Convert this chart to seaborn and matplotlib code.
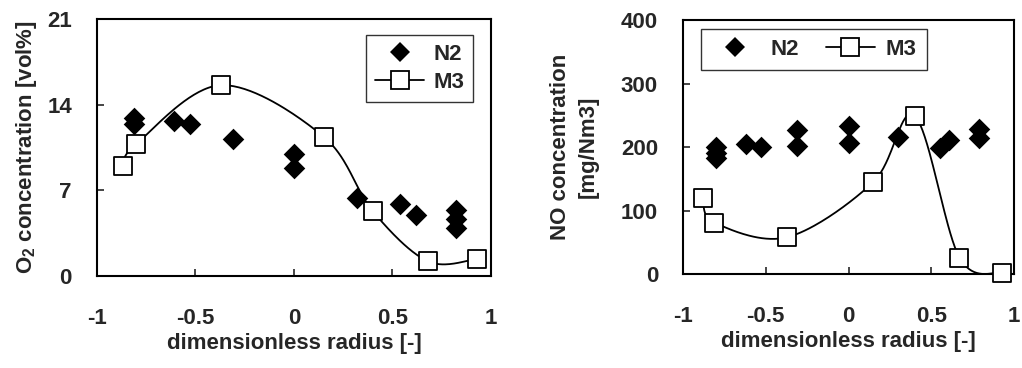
import numpy as np
import matplotlib
matplotlib.use("Agg")
import matplotlib.pyplot as plt
import seaborn as sns
from matplotlib.lines import Line2D

# ---- data ----
# O2 concentration (left)
o2_n2_x = [-0.81, -0.81, -0.61, -0.53, -0.31, 0.0, 0.0, 0.32, 0.54, 0.62, 0.82, 0.82, 0.82]
o2_n2_y = [12.9, 12.4, 12.7, 12.4, 11.2, 10.0, 8.8, 6.4, 5.9, 5.0, 5.4, 4.7, 3.9]
o2_m3_x = [-0.87, -0.80, -0.37, 0.15, 0.40, 0.68, 0.93]
o2_m3_y = [9.0, 10.8, 15.6, 11.4, 5.3, 1.2, 1.4]

# NO concentration (right)
no_n2_x = [-0.80, -0.80, -0.80, -0.62, -0.53, -0.31, -0.31, 0.0, 0.0, 0.30, 0.55, 0.61, 0.79, 0.79]
no_n2_y = [200, 190, 182, 205, 200, 227, 202, 233, 206, 216, 198, 211, 229, 214]
no_m3_x = [-0.88, -0.81, -0.37, 0.15, 0.40, 0.67, 0.93]
no_m3_y = [119, 81, 58, 145, 249, 26, 2]

x_ticks = [-1, -0.5, 0, 0.5, 1]
x_ticklabels = ["-1", "-0.5", "0", "0.5", "1"]
o2_yticks = [0, 7, 14, 21]
no_yticks = [0, 100, 200, 300, 400]

sns.set_style("ticks")
plt.rcParams["font.family"] = ["Liberation Sans", "DejaVu Sans"]
plt.rcParams["font.weight"] = "bold"
plt.rcParams["axes.labelweight"] = "bold"
plt.rcParams["mathtext.fontset"] = "custom"
plt.rcParams["mathtext.rm"] = "Liberation Sans:bold"
plt.rcParams["mathtext.it"] = "Liberation Sans:bold"
plt.rcParams["mathtext.bf"] = "Liberation Sans:bold"


def smooth(xs, ys, n=40):
    """Excel-style smoothed line rendering (Catmull-Rom Bezier)."""
    P = np.column_stack([xs, ys]).astype(float)
    pts = []
    m = len(P)
    t = np.linspace(0, 1, n)[:, None]
    for i in range(m - 1):
        p0 = P[i - 1] if i > 0 else P[i]
        p1, p2 = P[i], P[i + 1]
        p3 = P[i + 2] if i + 2 < m else P[i + 1]
        b1 = p1 + (p2 - p0) / 6
        b2 = p2 - (p3 - p1) / 6
        seg = ((1 - t) ** 3) * p1 + 3 * ((1 - t) ** 2) * t * b1 + 3 * (1 - t) * t ** 2 * b2 + t ** 3 * p2
        pts.append(seg)
    arr = np.vstack(pts)
    return arr[:, 0], arr[:, 1]


fig = plt.figure(figsize=(10.22, 3.68), dpi=100)
ax1 = fig.add_axes([0.0949, 0.25, 0.3855, 0.698])
ax2 = fig.add_axes([0.6683, 0.2554, 0.3239, 0.690])

FS = 16
msq = 13
mdi = 11


def draw(ax, nx, ny, mx, my):
    sx, sy = smooth(mx, my)
    sns.lineplot(x=sx, y=sy, sort=False, ax=ax, color="black", lw=1.3, estimator=None)
    sns.scatterplot(x=nx, y=ny, ax=ax, marker="D", s=mdi ** 2, color="black",
                    edgecolor="black", linewidth=0, zorder=3, clip_on=False)
    sns.scatterplot(x=mx, y=my, ax=ax, marker="s", s=msq ** 2, facecolor="white",
                    edgecolor="black", linewidth=1.3, zorder=4, clip_on=False)
    ax.set_xlim(-1, 1)
    ax.set_xticks(x_ticks)
    ax.set_xticklabels(x_ticklabels)
    ax.tick_params(direction="in", length=5, width=1.2, labelsize=FS)
    ax.tick_params(axis="x", pad=23)
    ax.tick_params(axis="y", pad=18)
    for s in ax.spines.values():
        s.set_visible(True)
        s.set_linewidth(1.5)
        s.set_color("black")
    ax.set_xlabel("dimensionless radius [-]", fontsize=FS, fontweight="bold", labelpad=3)


draw(ax1, o2_n2_x, o2_n2_y, o2_m3_x, o2_m3_y)
ax1.set_ylim(0, 21)
ax1.set_yticks(o2_yticks)
ax1.set_ylabel("O$_2$ concentration [vol%]", fontsize=FS, fontweight="bold", labelpad=6)

draw(ax2, no_n2_x, no_n2_y, no_m3_x, no_m3_y)
ax2.set_ylim(0, 400)
ax2.set_yticks(no_yticks)
ax2.set_ylabel("NO concentration\n[mg/Nm3]", fontsize=FS, fontweight="bold", labelpad=16,
               linespacing=1.4)

h_n2 = Line2D([], [], marker="D", color="black", ls="none", markersize=mdi * 0.9, markeredgewidth=0)
h_m3 = Line2D([], [], marker="s", color="black", ls="-", lw=1.3, markersize=msq,
              markerfacecolor="white", markeredgecolor="black", markeredgewidth=1.3)

leg1 = ax1.legend([h_n2, h_m3], ["N2", "M3"], loc="upper right", bbox_to_anchor=(0.954, 0.938),
                  fontsize=FS, frameon=True, fancybox=False, edgecolor="black", borderaxespad=0,
                  handlelength=2.2, borderpad=0.4, labelspacing=0.3, handletextpad=0.4)
leg1.get_frame().set_linewidth(1.0)

leg2 = ax2.legend([h_n2, h_m3], ["N2", "M3"], loc="upper left", bbox_to_anchor=(0.053, 0.965),
                  ncol=2, fontsize=FS, frameon=True, fancybox=False, edgecolor="black", borderaxespad=0,
                  handlelength=2.2, borderpad=0.45, columnspacing=1.2, handletextpad=0.5)
leg2.get_frame().set_linewidth(1.0)

fig.savefig("out.png", dpi=100, facecolor="white")
